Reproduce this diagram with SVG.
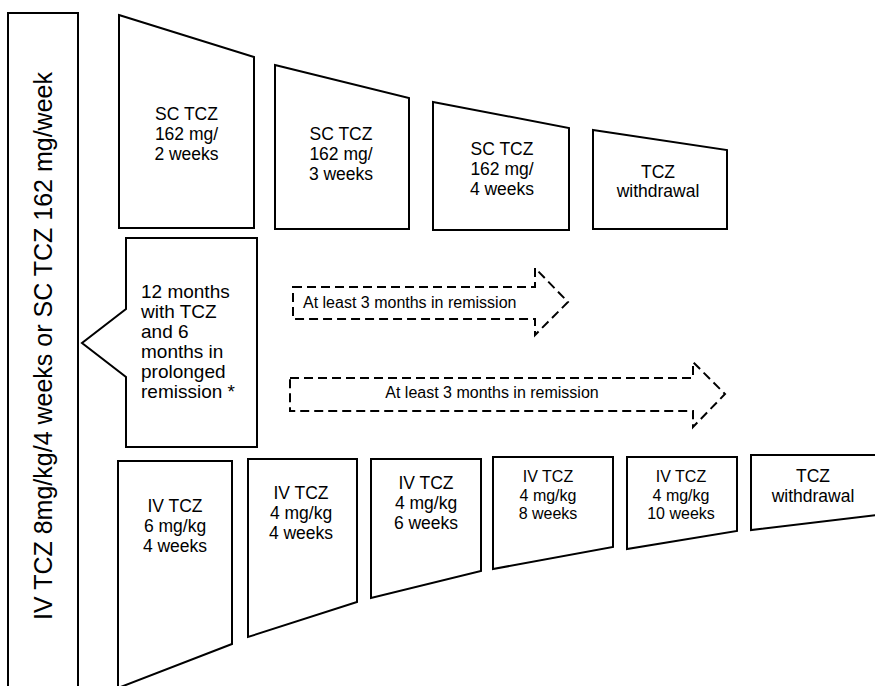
<svg xmlns="http://www.w3.org/2000/svg" width="875" height="686" viewBox="0 0 875 686">
  <style>
    .shape { fill: #ffffff; stroke: #000000; stroke-width: 2; stroke-linejoin: miter; }
    .dash { fill: none; stroke: #000000; stroke-width: 2; stroke-dasharray: 9 5; }
    text { font-family: "Liberation Sans", Arial, Helvetica, sans-serif; fill: #000000; }
    .lbl { font-size: 17.5px; text-anchor: middle; }
    .sm { font-size: 16px; text-anchor: middle; }
    .call { font-size: 19px; }
    .arr { font-size: 16px; }
  </style>
  <rect width="875" height="686" fill="#ffffff"/>

  <!-- Starting therapy column -->
  <g id="start">
    <rect class="shape" x="8" y="13" width="70" height="690" stroke-width="2.2"/>
    <text transform="translate(52,346) rotate(-90)" font-size="25" text-anchor="middle">IV TCZ 8mg/kg/4 weeks or SC TCZ 162 mg/week</text>
  </g>

  <!-- Subcutaneous tapering steps -->
  <g id="sc1">
    <polygon class="shape" points="119,15 254,57 254,228 119,228"/>
    <text class="lbl" x="186.5" y="120">SC TCZ</text>
    <text class="lbl" x="186.5" y="140">162 mg/</text>
    <text class="lbl" x="186.5" y="160">2 weeks</text>
  </g>
  <g id="sc2">
    <polygon class="shape" points="275,65 409,98 409,229 275,229"/>
    <text class="lbl" x="341" y="140">SC TCZ</text>
    <text class="lbl" x="341" y="160">162 mg/</text>
    <text class="lbl" x="341" y="180">3 weeks</text>
  </g>
  <g id="sc3">
    <polygon class="shape" points="433,102 569,128 569,230 433,230"/>
    <text class="lbl" x="502" y="155">SC TCZ</text>
    <text class="lbl" x="502" y="175">162 mg/</text>
    <text class="lbl" x="502" y="195">4 weeks</text>
  </g>
  <g id="sc4">
    <polygon class="shape" points="593,130 727,150 727,229 593,229"/>
    <text class="lbl" x="658" y="178">TCZ</text>
    <text class="lbl" x="658" y="197">withdrawal</text>
  </g>

  <!-- Criteria callout -->
  <g id="criteria">
    <path class="shape" d="M126,238 L257,238 L257,447 L126,447 L126,377 L82,343 L126,309 Z"/>
    <text class="call" x="141" y="298">12 months</text>
    <text class="call" x="141" y="318">with TCZ</text>
    <text class="call" x="141" y="338">and 6</text>
    <text class="call" x="141" y="358">months in</text>
    <text class="call" x="141" y="378">prolonged</text>
    <text class="call" x="141" y="398">remission *</text>
  </g>

  <!-- Remission interval arrows -->
  <g id="connectors">
    <path class="dash" d="M293,287 L535,287 L535,268 L568,302 L535,335 L535,319 L293,319 Z"/>
    <text class="arr" x="303" y="308">At least 3 months in remission</text>
    <path class="dash" d="M290,378 L693,378 L693,362 L725,394 L693,427 L693,411 L290,411 Z"/>
    <text class="arr" x="492" y="398" text-anchor="middle">At least 3 months in remission</text>
  </g>

  <!-- Intravenous tapering steps -->
  <g id="iv1">
    <polygon class="shape" points="118,461 232,461 232,644 118,688"/>
    <text class="lbl" x="175" y="512">IV TCZ</text>
    <text class="lbl" x="175" y="532">6 mg/kg</text>
    <text class="lbl" x="175" y="552">4 weeks</text>
  </g>
  <g id="iv2">
    <polygon class="shape" points="248,459 357,459 357,602 248,637"/>
    <text class="lbl" x="301" y="499">IV TCZ</text>
    <text class="lbl" x="301" y="519">4 mg/kg</text>
    <text class="lbl" x="301" y="539">4 weeks</text>
  </g>
  <g id="iv3">
    <polygon class="shape" points="371,459 481,459 481,571 371,598"/>
    <text class="lbl" x="426" y="489">IV TCZ</text>
    <text class="lbl" x="426" y="509">4 mg/kg</text>
    <text class="lbl" x="426" y="529">6 weeks</text>
  </g>
  <g id="iv4">
    <polygon class="shape" points="493,457 613,457 613,547 493,569"/>
    <text class="sm" x="548" y="482">IV TCZ</text>
    <text class="sm" x="548" y="501">4 mg/kg</text>
    <text class="sm" x="548" y="519">8 weeks</text>
  </g>
  <g id="iv5">
    <polygon class="shape" points="627,457 737,457 737,531 627,549"/>
    <text class="sm" x="681" y="482">IV TCZ</text>
    <text class="sm" x="681" y="501">4 mg/kg</text>
    <text class="sm" x="681" y="519">10 weeks</text>
  </g>
  <g id="iv6">
    <polygon class="shape" points="751,455 885,455 885,514 751,530"/>
    <text class="lbl" x="813" y="482">TCZ</text>
    <text class="lbl" x="813" y="502">withdrawal</text>
  </g>
</svg>
